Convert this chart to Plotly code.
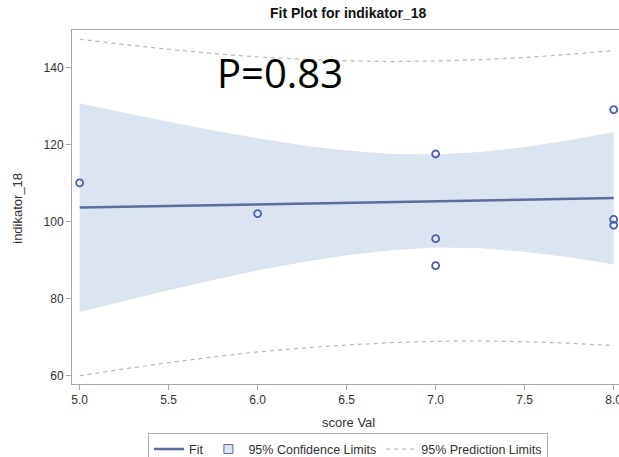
import plotly.graph_objects as go

# Observations
score_val = [5, 6, 7, 7, 7, 8, 8, 8]
indikator_18 = [110, 102, 117.5, 95.5, 88.5, 129, 100.5, 99]

# Fit curve and limits
grid_x = [5.0, 5.25, 5.5, 5.75, 6.0, 6.25, 6.5, 6.75, 7.0, 7.25, 7.5, 7.75, 8.0]
fit_y = [103.6, 103.8, 104.0, 104.2, 104.4, 104.6, 104.8, 105.0, 105.25, 105.45, 105.65, 105.85, 106.05]
cl_upper = [130.7, 128.2, 125.9, 123.6, 121.6, 119.8, 118.4, 117.5, 117.4, 118.0, 119.3, 121.1, 123.2]
cl_lower = [76.5, 79.4, 82.1, 84.8, 87.3, 89.4, 91.2, 92.5, 93.2, 93.0, 92.1, 90.7, 88.9]
pl_upper = [147.3, 145.9, 144.7, 143.6, 142.7, 142.1, 141.7, 141.5, 141.65, 142.0, 142.55, 143.35, 144.35]
pl_lower = [59.9, 61.7, 63.3, 64.8, 66.1, 67.1, 67.9, 68.5, 68.85, 68.95, 68.75, 68.35, 67.75]

x_ticks = [5.0, 5.5, 6.0, 6.5, 7.0, 7.5, 8.0]
y_ticks = [60, 80, 100, 120, 140]

FIT_COLOR = "#5a6e9e"
BAND_COLOR = "#dbe4f1"
PRED_COLOR = "#b4b6cc"
FRAME = "#a6a6a6"
TXT = "#333333"
FONT = "Liberation Sans, Arial, sans-serif"

fig = go.Figure()

# Confidence band
fig.add_trace(go.Scatter(x=grid_x, y=cl_lower, mode="lines", line=dict(width=0),
                         showlegend=False, hoverinfo="skip"))
fig.add_trace(go.Scatter(x=grid_x, y=cl_upper, mode="lines", line=dict(width=0),
                         fill="tonexty", fillcolor=BAND_COLOR,
                         showlegend=False, hoverinfo="skip"))

# Fit line
fig.add_trace(go.Scatter(x=grid_x, y=fit_y, mode="lines", name="Fit",
                         line=dict(color=FIT_COLOR, width=2.5)))

# Legend-only entry for the confidence limits
fig.add_trace(go.Scatter(x=[None], y=[None], mode="markers", name="95% Confidence Limits",
                         marker=dict(symbol="square", size=9, color=BAND_COLOR,
                                     line=dict(color="#5a6a90", width=1))))

# Prediction limits
fig.add_trace(go.Scatter(x=grid_x, y=pl_upper, mode="lines", name="95% Prediction Limits",
                         line=dict(color=PRED_COLOR, width=1.2, dash="4px,4px")))
fig.add_trace(go.Scatter(x=grid_x, y=pl_lower, mode="lines", showlegend=False,
                         line=dict(color=PRED_COLOR, width=1.2, dash="4px,4px")))

# Observations
fig.add_trace(go.Scatter(x=score_val, y=indikator_18, mode="markers", showlegend=False,
                         marker=dict(symbol="circle-open", size=7,
                                     color="#4a62a3", line=dict(width=1.8))))

plot_h = 457 - 30 - 72.5

fig.update_layout(
    width=619, height=457,
    margin=dict(l=72, r=0, t=30, b=72.5, pad=0, autoexpand=False),
    paper_bgcolor="white", plot_bgcolor="white",
    font=dict(family=FONT, size=12, color=TXT),
    showlegend=True,
    legend=dict(orientation="h", x=(348 - 72) / 547, xanchor="center",
                y=-(450 - 384.5) / plot_h, yanchor="middle",
                traceorder="normal",
                bordercolor="#b0b0b0", borderwidth=1,
                font=dict(family=FONT, size=12.5, color=TXT),
                itemwidth=30, tracegroupgap=0),
    annotations=[
        dict(text="<b>Fit Plot for indikator_18</b>", xref="paper", yref="paper",
             x=(348 - 72) / 547, y=1 + (30 - 13) / plot_h, xanchor="center", yanchor="middle",
             showarrow=False, font=dict(family=FONT, size=14, color="#111111")),
        dict(text="P=0.83", xref="paper", yref="paper",
             x=(215 - 72) / 547, y=1 - (73 - 30) / plot_h, xanchor="left", yanchor="middle",
             showarrow=False, font=dict(family="Open Sans, sans-serif", size=40, color="black")),
        dict(text="score Val", xref="paper", yref="paper",
             x=(348 - 72) / 547, y=-(423 - 384.5) / plot_h, xanchor="center", yanchor="middle",
             showarrow=False, font=dict(family=FONT, size=13, color=TXT)),
        dict(text="indikator_18", xref="paper", yref="paper", textangle=-90,
             x=(18 - 72) / 547, y=1 - (209 - 30) / plot_h, xanchor="center", yanchor="middle",
             showarrow=False, font=dict(family=FONT, size=13, color=TXT)),
    ],
)

fig.update_xaxes(range=[4.957, 4.957 + 547 / 178], tickvals=x_ticks,
                 ticktext=[f"{v:.1f}" for v in x_ticks],
                 ticklabeloverflow="allow", automargin=False,
                 showgrid=False, zeroline=False,
                 showline=True, linecolor=FRAME, linewidth=1, mirror=True,
                 ticks="outside", ticklen=5, tickcolor=FRAME,
                 tickfont=dict(family=FONT, size=12, color=TXT))
fig.update_yaxes(range=[57.77, 149.7], tickvals=y_ticks, automargin=False,
                 showgrid=False, zeroline=False,
                 showline=True, linecolor=FRAME, linewidth=1, mirror=False,
                 ticks="outside", ticklen=5, tickcolor=FRAME,
                 tickfont=dict(family=FONT, size=12, color=TXT))

fig.write_html("out.html")
